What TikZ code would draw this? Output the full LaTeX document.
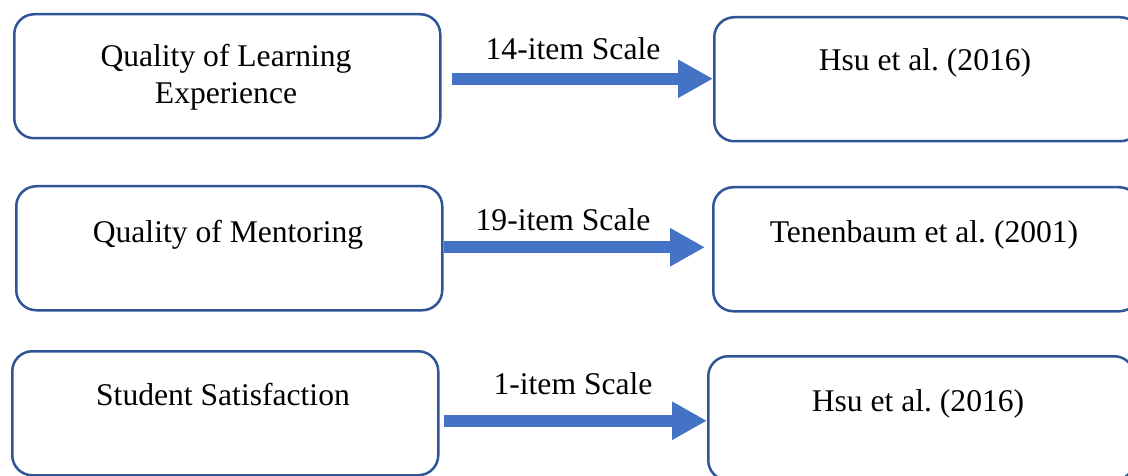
\documentclass[tikz,border=0pt]{standalone}
\usepackage{fontspec}
\setmainfont{Liberation Serif}
\usetikzlibrary{arrows.meta}
\definecolor{boxblue}{HTML}{2F5597}
\definecolor{arrblue}{HTML}{4472C4}
\frenchspacing
\tikzset{
  box/.style={draw=boxblue, line width=2.5pt, rounded corners=20pt, rectangle,
    minimum width=426pt, minimum height=124pt, inner sep=0pt, anchor=north west},
  txt/.style={font=\fontsize{31.6}{37}\selectfont\frenchspacing, anchor=base, inner sep=0pt, align=center},
  arr/.style={draw=arrblue, line width=12pt, -{Triangle[length=35pt,width=36pt]}}
}
\begin{document}
\begin{tikzpicture}[x=1pt,y=-1pt]
\useasboundingbox (0,0) rectangle (1128,476);
\node[box] (b1) at (13,13) {};
\node[box] (r1) at (713,16) {};
\node[box] (b2) at (15,185) {};
\node[box] (r2) at (712,186) {};
\node[box] (b3) at (11,350) {};
\node[box] (r3) at (707,355) {};
\node[txt] (t1) at (226,104) {Quality of Learning\\Experience};
\node[txt] (u1) at (925,71) {Hsu et al. (2016)};
\node[txt] (t2) at (228,242) {Quality of Mentoring};
\node[txt] (u2) at (924,242) {Tenenbaum et al. (2001)};
\node[txt] (t3) at (223,405) {Student Satisfaction};
\node[txt] (u3) at (918,411) {Hsu et al. (2016)};
\node[txt] (l1) at (573,60) {14-item Scale};
\node[txt] (l2) at (563,230) {19-item Scale};
\node[txt] (l3) at (573,394) {1-item Scale};
\draw[arr] ([xshift=10pt,yshift=-2.5pt]b1.east) -- ([yshift=-2.5pt]b1.east -| r1.west);
\draw[arr] ([yshift=1pt]b2.east) -- ([xshift=-7pt,yshift=1pt]b2.east -| r2.west);
\draw[arr] ([xshift=4pt,yshift=-7.5pt]b3.east) -- ([yshift=-7.5pt]b3.east -| r3.west);
\end{tikzpicture}
\end{document}
